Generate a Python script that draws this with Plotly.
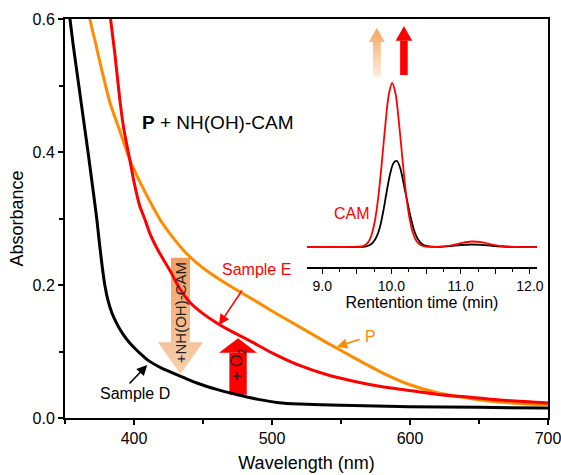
import plotly.graph_objects as go

# ---------------- UV-vis spectra (absorbance vs wavelength) ----------------
wl_D = [350, 353, 356, 360, 364, 367, 370, 373, 375, 377, 379, 381, 384, 388, 392, 396,
        400, 405, 410, 420, 430, 445, 460, 475, 490, 505, 520, 550, 600, 650, 700]
abs_D = [0.66, 0.61, 0.56, 0.50, 0.44, 0.395, 0.348, 0.30, 0.262, 0.227, 0.198, 0.178,
         0.158, 0.140, 0.126, 0.115, 0.106, 0.096, 0.087, 0.075, 0.066, 0.053, 0.043,
         0.035, 0.028, 0.023, 0.021, 0.019, 0.017, 0.016, 0.015]

wl_P = [366, 368, 372, 377, 382.6, 390, 397, 405, 412, 419, 428, 436, 445, 455, 470,
        484, 500, 520, 540, 560, 580, 600, 620, 645, 665, 700]
abs_P = [0.63, 0.60, 0.565, 0.52, 0.474, 0.43, 0.388, 0.352, 0.324, 0.298, 0.272,
         0.252, 0.234, 0.218, 0.198, 0.181, 0.161, 0.137, 0.113, 0.090, 0.068, 0.050,
         0.038, 0.029, 0.024, 0.0195]

wl_E = [380, 383, 386, 390, 393, 397, 400, 404, 408, 412, 418, 426, 433, 441, 450, 460,
        470, 484, 500, 520, 540, 560, 580, 605, 622, 645, 665, 700]
abs_E = [0.66, 0.60, 0.55, 0.474, 0.43, 0.388, 0.355, 0.32, 0.298, 0.275, 0.25, 0.222,
         0.195, 0.173, 0.157, 0.143, 0.131, 0.116, 0.098, 0.079, 0.065, 0.055, 0.047,
         0.040, 0.035, 0.031, 0.027, 0.0225]

# ---------------- HPLC trace (inset), signal in arbitrary units ----------------
t_black = [8.78, 9.3, 9.55, 9.62, 9.68, 9.73, 9.78, 9.83, 9.88, 9.93, 9.98, 10.03,
           10.08, 10.13, 10.18, 10.23, 10.28, 10.33, 10.38, 10.44, 10.52, 10.7, 10.85,
           11.0, 11.15, 11.3, 11.45, 11.6, 11.8, 12.1]
sig_black = [0, 0, 0.1, 0.5, 1.8, 4.5, 9.5, 19, 35, 55, 73, 84, 86, 78, 62, 45, 29,
             16, 8, 3, 0.8, 0.2, 1.0, 2.0, 2.5, 2.2, 1.2, 0.5, 0.1, 0]

t_red = [8.78, 9.3, 9.52, 9.6, 9.66, 9.71, 9.76, 9.81, 9.86, 9.91, 9.96, 10.01, 10.06,
         10.11, 10.16, 10.21, 10.26, 10.31, 10.36, 10.42, 10.5, 10.7, 10.85, 11.0,
         11.15, 11.3, 11.45, 11.6, 11.8, 12.1]
sig_red = [0, 0, 0.3, 1.2, 4.4, 11.5, 26, 50, 84, 121, 152, 164, 153, 123, 87, 53, 29,
           14, 6, 2, 0.5, 0.3, 1.5, 3.8, 5.5, 4.8, 2.5, 0.8, 0.1, 0]

inset_ticks = [9.0, 9.5, 10.0, 10.5, 11.0, 11.5, 12.0]
inset_ticktext = ["9.0", "", "10.0", "", "11.0", "", "12.0"]

BLACK = "#000000"
ORANGE = "#FF8C00"
RED = "#FF0000"
FONT = "Liberation Sans, Arial, sans-serif"

fig = go.Figure()

fig.add_trace(go.Scatter(x=wl_D, y=abs_D, mode="lines", name="Sample D",
                         line=dict(color=BLACK, width=3, shape="spline", smoothing=0.5)))
fig.add_trace(go.Scatter(x=wl_P, y=abs_P, mode="lines", name="P",
                         line=dict(color=ORANGE, width=3, shape="spline", smoothing=0.5)))
fig.add_trace(go.Scatter(x=wl_E, y=abs_E, mode="lines", name="Sample E",
                         line=dict(color=RED, width=3, shape="spline", smoothing=0.5)))

fig.add_trace(go.Scatter(x=t_black, y=sig_black, mode="lines", xaxis="x2", yaxis="y2",
                         line=dict(color=BLACK, width=1.8, shape="spline", smoothing=0.8)))
fig.add_trace(go.Scatter(x=t_red, y=sig_red, mode="lines", xaxis="x2", yaxis="y2",
                         line=dict(color=RED, width=1.8, shape="spline", smoothing=0.8)))


def lerp_color(c0, c1, f):
    return "rgb(%d,%d,%d)" % tuple(round(a + (b - a) * f) for a, b in zip(c0, c1))


def block_arrow(xc, hw_shaft, hw_head, y_tail, y_base, y_tip, c_tail, c_tip,
                xref, yref, n_shaft=1, n_head=1, layer="below"):
    """Fat block arrow, optionally with a vertical colour gradient built from bands."""
    shapes = []
    total = y_tip - y_tail
    bands = []
    for i in range(n_shaft):
        bands.append(("shaft", y_tail + (y_base - y_tail) * i / n_shaft,
                      y_tail + (y_base - y_tail) * (i + 1) / n_shaft))
    for i in range(n_head):
        bands.append(("head", y_base + (y_tip - y_base) * i / n_head,
                      y_base + (y_tip - y_base) * (i + 1) / n_head))

    def head_w(y):
        return hw_head * (y_tip - y) / (y_tip - y_base)

    last = len(bands) - 1
    for k, (kind, ya, yb) in enumerate(bands):
        frac = ((ya + yb) / 2 - y_tail) / total
        col = lerp_color(c_tail, c_tip, frac)
        # small overlap into the next band hides seams between bands
        yb_ext = yb + 0.15 * (yb - ya) if k < last else yb
        if kind == "shaft":
            yb_s = min(yb_ext, y_base) if y_tip > y_tail else max(yb_ext, y_base)
            pts = [(xc - hw_shaft, ya), (xc + hw_shaft, ya),
                   (xc + hw_shaft, yb_s), (xc - hw_shaft, yb_s)]
        else:
            wa, wb = head_w(ya), head_w(yb_ext)
            pts = [(xc - wa, ya), (xc + wa, ya), (xc + wb, yb_ext), (xc - wb, yb_ext)]
        path = "M " + " L ".join("%g,%g" % p for p in pts) + " Z"
        shapes.append(dict(type="path", path=path, xref=xref, yref=yref,
                           fillcolor=col, line=dict(width=0), layer=layer))
    return shapes


shapes = []
# +NH(OH)-CAM arrow (downward, orange gradient)
shapes += block_arrow(433.7, 6.9, 16.3, 0.241, 0.114, 0.066,
                      (240, 158, 98), (248, 208, 172), "x", "y", n_shaft=14, n_head=8)
# +O2 arrow (upward, red)
shapes += block_arrow(475.4, 6.3, 13.8, 0.035, 0.098, 0.120,
                      (255, 0, 0), (255, 0, 0), "x", "y")
# inset arrows above the chromatogram peak
shapes += block_arrow(9.789, 0.057, 0.115, 170, 205, 219,
                      (255, 238, 222), (245, 165, 95), "x2", "y2",
                      n_shaft=12, n_head=4, layer="above")
shapes += block_arrow(10.18, 0.055, 0.119, 172, 206.3, 221,
                      (255, 0, 0), (255, 0, 0), "x2", "y2", layer="above")

annotations = [
    dict(x=404.3, y=0.445, xref="x", yref="y", xanchor="left", yanchor="middle",
         text="<b>P</b> + NH(OH)-CAM", showarrow=False,
         font=dict(size=19, color=BLACK, family=FONT)),
    # Sample E label and pointer
    dict(x=489, y=0.2226, xref="x", yref="y", text="Sample E", showarrow=False,
         font=dict(size=16, color=RED, family=FONT)),
    dict(x=461.6, y=0.14, ax=479, ay=0.194, xref="x", yref="y", axref="x", ayref="y",
         text="", showarrow=True, arrowhead=2, arrowsize=1.3, arrowwidth=1.6,
         arrowcolor=RED, standoff=0),
    # P label and pointer
    dict(x=571.7, y=0.122, xref="x", yref="y", text="P", showarrow=False,
         font=dict(size=16, color=ORANGE, family=FONT)),
    dict(x=547, y=0.107, ax=564.5, ay=0.119, xref="x", yref="y", axref="x", ayref="y",
         text="", showarrow=True, arrowhead=2, arrowsize=1.3, arrowwidth=1.6,
         arrowcolor=ORANGE, standoff=0),
    # Sample D label and pointer
    dict(x=400.7, y=0.037, xref="x", yref="y", text="Sample D", showarrow=False,
         font=dict(size=16, color=BLACK, family=FONT)),
    dict(x=409.6, y=0.0797, ax=395.7, ay=0.0496, xref="x", yref="y", axref="x",
         ayref="y", text="", showarrow=True, arrowhead=2, arrowsize=1.3,
         arrowwidth=1.6, arrowcolor=BLACK, standoff=0),
    # text on the block arrows
    dict(x=434.3, y=0.158, xref="x", yref="y", text="+NH(OH)-CAM", textangle=-90,
         showarrow=False, font=dict(size=15, color="#222222", family=FONT)),
    dict(x=475.4, y=0.080, xref="x", yref="y", text="+ O<sub>2</sub>", textangle=-90,
         showarrow=False, font=dict(size=16, color="#222222", family=FONT)),
    # inset label
    dict(x=9.43, y=34, xref="x2", yref="y2", text="CAM", showarrow=False,
         font=dict(size=16, color=RED, family=FONT)),
]

fig.update_layout(
    width=561, height=475,
    margin=dict(l=65, r=13, t=19, b=57),
    paper_bgcolor="white", plot_bgcolor="white",
    showlegend=False,
    font=dict(family=FONT, color=BLACK),
    shapes=shapes,
    annotations=annotations,
    xaxis=dict(range=[350, 700], domain=[0, 1], tickvals=[400, 500, 600, 700],
               automargin=False, ticklabeloverflow="allow",
               showline=True, linecolor=BLACK, linewidth=2, mirror=True,
               ticks="outside", ticklen=5, tickwidth=1.5, tickcolor=BLACK,
               minor=dict(dtick=50, tick0=350, ticks="outside", ticklen=4,
                          tickwidth=1.5, tickcolor=BLACK),
               showgrid=False, zeroline=False, tickfont=dict(size=16),
               title=dict(text="Wavelength (nm)", font=dict(size=18), standoff=10)),
    yaxis=dict(range=[0, 0.6], domain=[0, 1], dtick=0.2, tick0=0, tickformat=".1f",
               automargin=False,
               showline=True, linecolor=BLACK, linewidth=2, mirror=True,
               ticks="outside", ticklen=5, tickwidth=1.5, tickcolor=BLACK,
               minor=dict(dtick=0.1, tick0=0, ticks="outside", ticklen=4,
                          tickwidth=1.5, tickcolor=BLACK),
               showgrid=False, zeroline=False, tickfont=dict(size=16),
               title=dict(text="Absorbance", font=dict(size=18), standoff=4)),
    xaxis2=dict(domain=[0.501, 0.977], anchor="y2", range=[8.78, 12.1],
                automargin=False,
                tickmode="array", tickvals=inset_ticks, ticktext=inset_ticktext,
                showline=True, linecolor=BLACK, linewidth=2,
                ticks="outside", ticklen=5, tickwidth=1.3, tickcolor=BLACK,
                minor=dict(dtick=0.25, tick0=9.0, ticks="outside", ticklen=3,
                           tickwidth=1, tickcolor=BLACK),
                showgrid=False, zeroline=False, tickfont=dict(size=14),
                title=dict(text="Rentention time (min)", font=dict(size=16), standoff=2)),
    yaxis2=dict(domain=[0.3784, 1.0], anchor="x2", range=[-20, 228], visible=False,
                automargin=False, showgrid=False, zeroline=False),
)

fig.write_html("out.html")
